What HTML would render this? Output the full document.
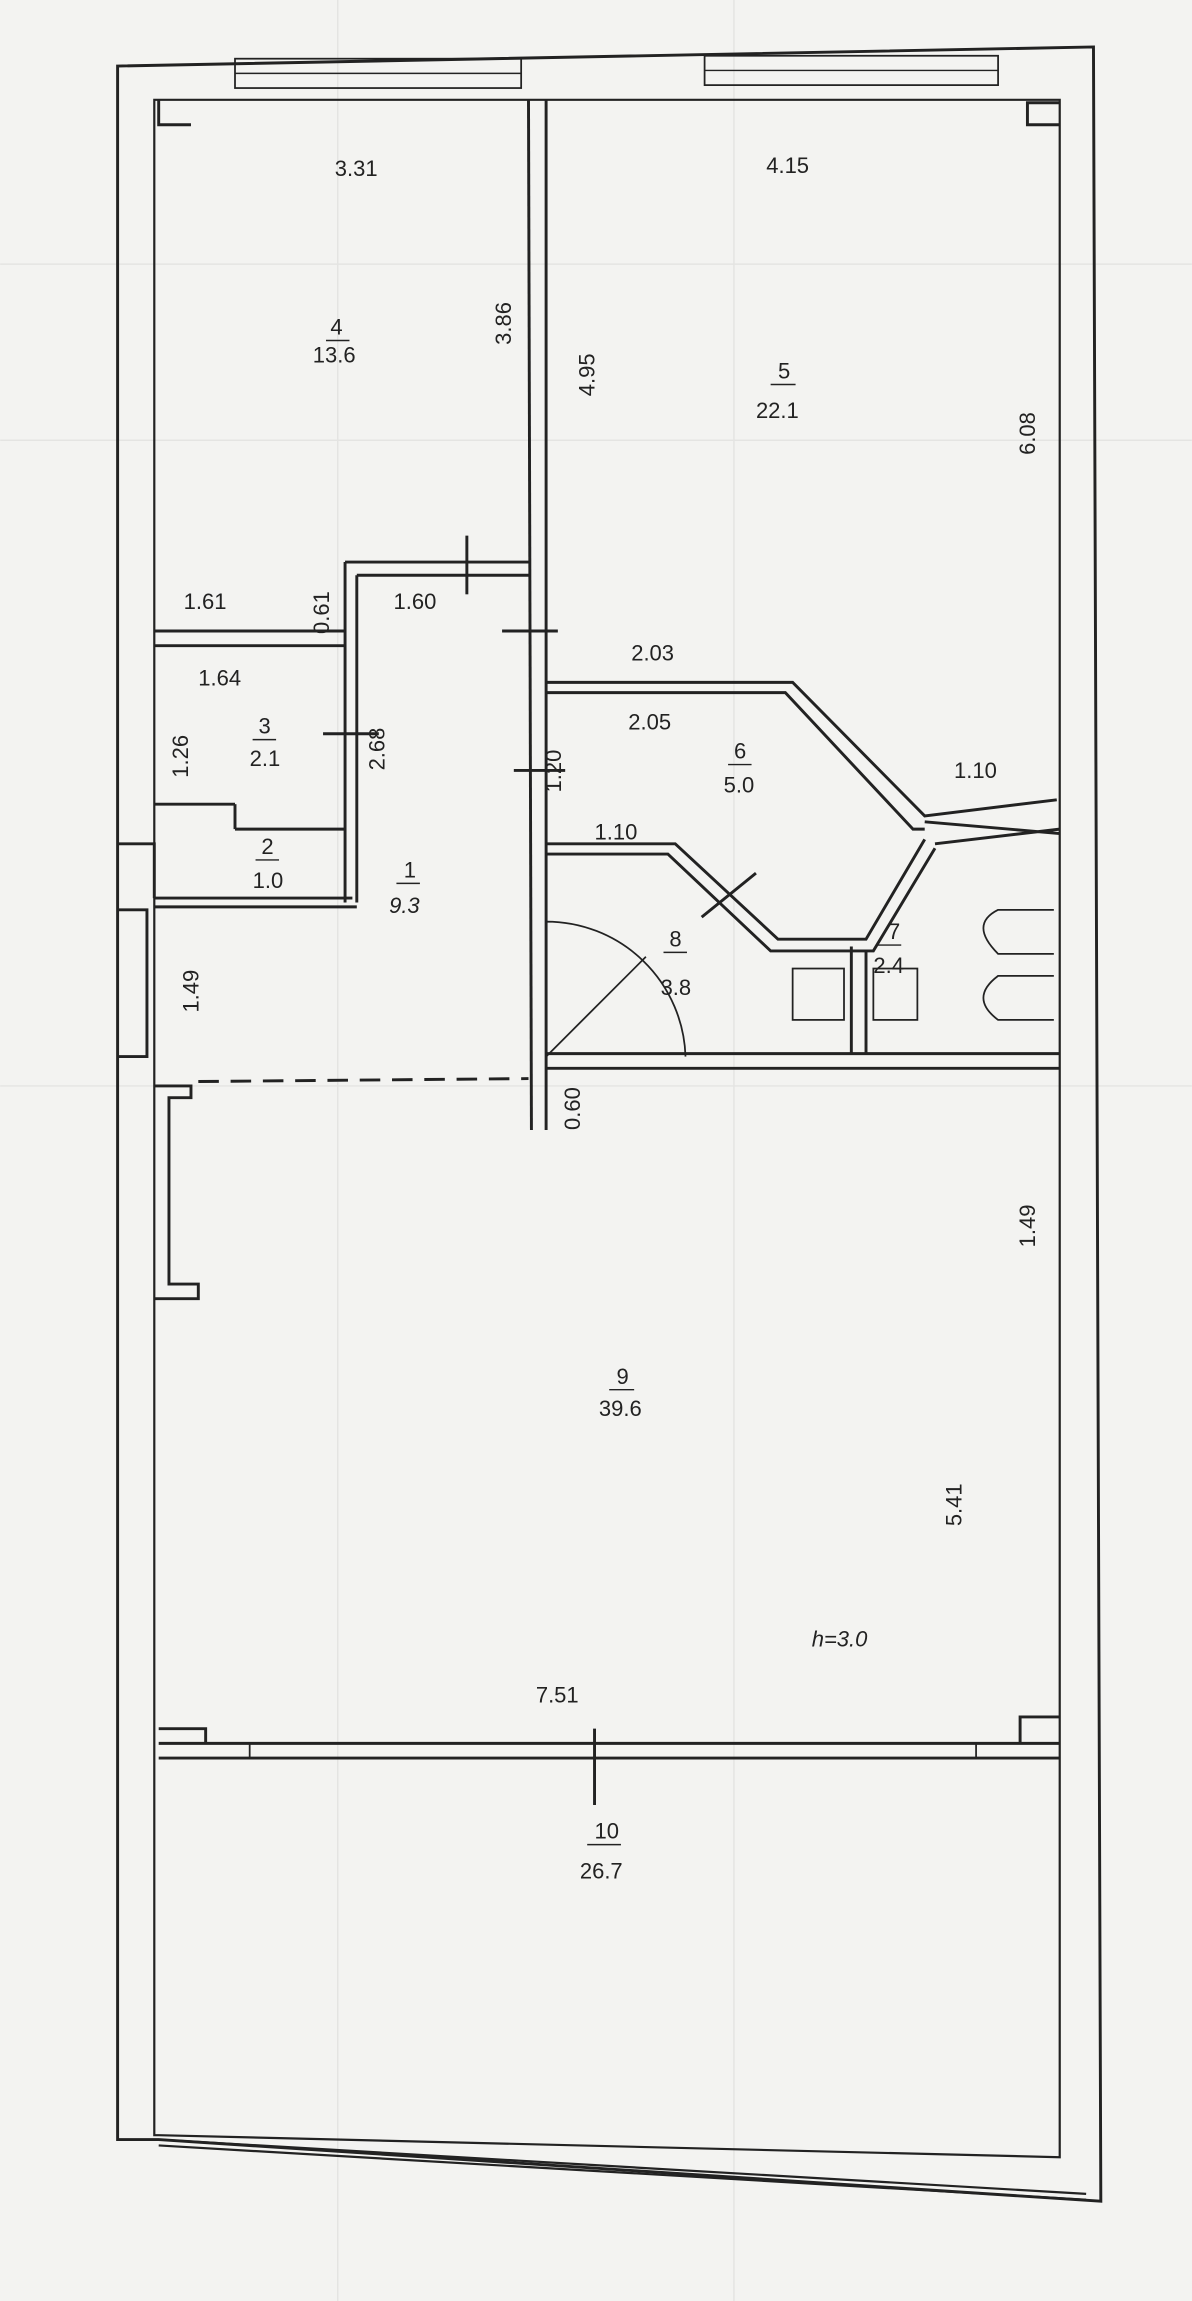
<!DOCTYPE html>
<html><head><meta charset="utf-8"><style>
html,body{margin:0;padding:0;background:#f3f3f1;}
svg{display:block}
text{font-family:"Liberation Sans",sans-serif;font-size:15px;fill:#222}
</style></head><body>
<svg width="1192" height="2301" viewBox="0 0 812 1568" xmlns="http://www.w3.org/2000/svg">
<rect width="812" height="1568" fill="#f3f3f1"/>
<g stroke="#e4e4e2" stroke-width="1">
<line x1="230" y1="0" x2="230" y2="1568"/><line x1="500" y1="0" x2="500" y2="1568"/>
<line x1="0" y1="180" x2="812" y2="180"/><line x1="0" y1="300" x2="812" y2="300"/><line x1="0" y1="740" x2="812" y2="740"/>
</g>
<g fill="none" stroke="#222" stroke-width="2">
<!-- outer walls -->
<path d="M80,45 L745,32 L750,1500 L108,1458 L80,1458 Z"/>
<path d="M105,68 L722,68 L722,1470 L108,1455 L105,1455 Z" stroke-width="1.5"/>
<!-- top windows -->
<rect x="160" y="40" width="195" height="20" stroke-width="1.2"/>
<rect x="480" y="38" width="200" height="20" stroke-width="1.2"/>
<line x1="160" y1="50" x2="355" y2="50" stroke-width="1"/>
<line x1="480" y1="48" x2="680" y2="48" stroke-width="1"/>
<path d="M108,68 L108,85 L130,85"/><path d="M722,70 L700,70 L700,85 L722,85"/>
<!-- wall 4/5 -->
<line x1="360" y1="68" x2="362" y2="770"/><line x1="372" y1="68" x2="372" y2="770"/>
<!-- room 4 bottom and partitions -->
<line x1="105" y1="430" x2="235" y2="430"/><line x1="105" y1="440" x2="235" y2="440"/>
<line x1="235" y1="383" x2="235" y2="615"/><line x1="243" y1="392" x2="243" y2="615"/>
<line x1="235" y1="383" x2="360" y2="383"/><line x1="243" y1="392" x2="360" y2="392"/>
<line x1="105" y1="548" x2="160" y2="548"/><line x1="160" y1="548" x2="160" y2="565"/><line x1="160" y1="565" x2="235" y2="565"/>
<line x1="105" y1="612" x2="240" y2="612"/><line x1="105" y1="618" x2="243" y2="618"/>
<path d="M80,575 L105,575 L105,612"/>
<path d="M80,620 L100,620 L100,720 L80,720"/>
<path d="M105,740 L130,740 L130,748 L115,748 L115,875 L135,875 L135,885 L105,885"/>
<!-- dashed -->
<line x1="135" y1="737" x2="360" y2="735" stroke-dasharray="14,8"/>
<!-- room 6 -->
<path d="M372,465 L540,465 L630,556 L720,545"/>
<path d="M372,472 L535,472 L622,565 L630,565"/>
<path d="M372,575 L460,575 L530,640 L590,640 L630,572"/>
<path d="M372,582 L455,582 L525,648 L595,648 L637,578"/>
<path d="M630,560 L722,568 M637,575 L722,565"/>
<line x1="372" y1="718" x2="722" y2="718"/><line x1="372" y1="728" x2="722" y2="728"/>
<line x1="580" y1="645" x2="580" y2="718"/><line x1="590" y1="648" x2="590" y2="718"/>
<rect x="540" y="660" width="35" height="35" stroke-width="1.2"/>
<rect x="595" y="660" width="30" height="35" stroke-width="1.2"/>
<path d="M718,620 L680,620 Q660,630 680,650 L718,650 M718,665 L680,665 Q660,680 680,695 L718,695" stroke-width="1.2"/>
<!-- door arc -->
<path d="M372,720 L372,628 A95,95 0 0,1 467,720" stroke-width="1.2"/>
<line x1="372" y1="720" x2="440" y2="652" stroke-width="1.2"/>
<!-- bottom wall with window -->
<line x1="108" y1="1188" x2="722" y2="1188"/><line x1="108" y1="1198" x2="722" y2="1198"/>
<rect x="170" y="1188" width="495" height="10" stroke-width="1.2"/>
<path d="M108,1178 L140,1178 L140,1188 M722,1170 L695,1170 L695,1188"/>
<path d="M108,1458 L740,1495 M108,1462 L740,1499" stroke-width="1.5"/>
<!-- tick marks -->
<line x1="318" y1="365" x2="318" y2="405"/><line x1="342" y1="430" x2="380" y2="430"/>
<line x1="220" y1="500" x2="258" y2="500"/><line x1="350" y1="525" x2="385" y2="525"/>
<line x1="478" y1="625" x2="515" y2="595"/>
<line x1="405" y1="1178" x2="405" y2="1230"/>
</g>
<g>
<text x="228" y="120">3.31</text><text x="522" y="118">4.15</text>
<text x="225" y="228">4</text><line x1="222" y1="232" x2="238" y2="232" stroke="#222"/><text x="213" y="247">13.6</text>
<text x="530" y="258">5</text><line x1="525" y1="262" x2="542" y2="262" stroke="#222"/><text x="515" y="285">22.1</text>
<text transform="translate(348,235) rotate(-90)">3.86</text>
<text transform="translate(405,270) rotate(-90)">4.95</text>
<text transform="translate(705,310) rotate(-90)">6.08</text>
<text x="125" y="415">1.61</text><text transform="translate(224,432) rotate(-90)">0.61</text>
<text x="268" y="415">1.60</text><text x="430" y="450">2.03</text>
<text x="135" y="467">1.64</text><text x="428" y="497">2.05</text>
<text transform="translate(128,530) rotate(-90)">1.26</text>
<text x="176" y="500">3</text><line x1="172" y1="504" x2="188" y2="504" stroke="#222"/><text x="170" y="522">2.1</text>
<text transform="translate(262,525) rotate(-90)">2.68</text>
<text transform="translate(382,540) rotate(-90)">1.20</text>
<text x="500" y="517">6</text><line x1="496" y1="521" x2="512" y2="521" stroke="#222"/><text x="493" y="540">5.0</text>
<text x="650" y="530">1.10</text><text x="405" y="572">1.10</text>
<text x="178" y="582">2</text><line x1="174" y1="586" x2="190" y2="586" stroke="#222"/><text x="172" y="605">1.0</text>
<text x="275" y="598">1</text><line x1="270" y1="602" x2="286" y2="602" stroke="#222"/><text x="265" y="622" font-style="italic">9.3</text>
<text x="456" y="645">8</text><line x1="452" y1="649" x2="468" y2="649" stroke="#222"/><text x="450" y="678">3.8</text>
<text x="605" y="640">7</text><line x1="598" y1="644" x2="614" y2="644" stroke="#222"/><text x="595" y="663">2.4</text>
<text transform="translate(135,690) rotate(-90)">1.49</text>
<text transform="translate(395,770) rotate(-90)">0.60</text>
<text transform="translate(705,850) rotate(-90)">1.49</text>
<text x="420" y="943">9</text><line x1="415" y1="947" x2="432" y2="947" stroke="#222"/><text x="408" y="965">39.6</text>
<text transform="translate(655,1040) rotate(-90)">5.41</text>
<text x="553" y="1122" font-style="italic" font-size="20">h=3.0</text>
<text x="365" y="1160">7.51</text>
<text x="405" y="1253">10</text><line x1="400" y1="1257" x2="423" y2="1257" stroke="#222"/><text x="395" y="1280">26.7</text>
</g>
</svg>
</body></html>
